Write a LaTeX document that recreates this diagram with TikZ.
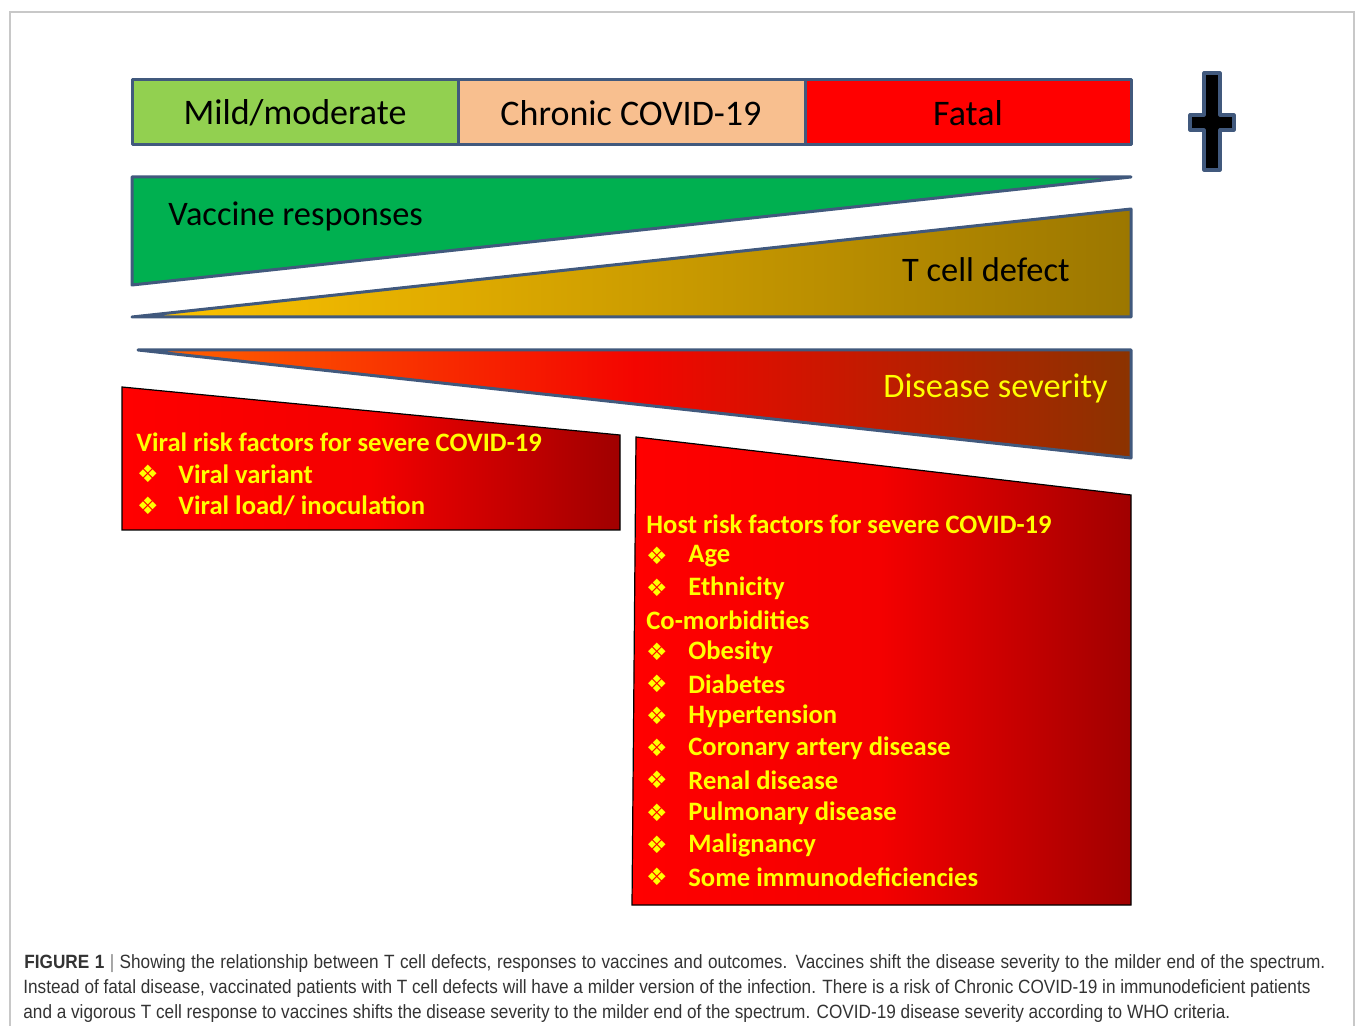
\documentclass[tikz,border=0pt]{standalone}
\usepackage{fontspec}
\setmainfont{Carlito}
\newfontfamily\symfont{DejaVu Sans}
\newfontfamily\capfont[FakeStretch=0.895]{Liberation Sans}
\definecolor{edgeblue}{HTML}{41597D}
\definecolor{mildgreen}{HTML}{92D050}
\definecolor{peach}{HTML}{F8BF8F}
\definecolor{vaccgreen}{HTML}{00B050}
\definecolor{goldleft}{HTML}{FFC400}
\definecolor{goldright}{HTML}{9C7700}
\definecolor{sevleft}{HTML}{FF6600}
\definecolor{sevright}{HTML}{8B3300}
\definecolor{boxred}{HTML}{FF0000}
\definecolor{boxdark}{HTML}{A00000}
\definecolor{textyellow}{HTML}{FFFF00}
\definecolor{capgray}{HTML}{333333}
\definecolor{framegray}{HTML}{C8C8C8}
\tikzset{
  edge/.style={draw=edgeblue, line width=1.5pt, line join=round},
  bigtext/.style={font=\fontsize{18}{21}\selectfont},
  wedgetext/.style={font=\fontsize{17.2}{20}\selectfont, inner sep=0pt},
  riskbox/.style={draw=black, line width=0.6pt, left color=boxred, right color=boxdark, middle color=boxred!88!boxdark},
  risktext/.style={font=\bfseries\fontsize{13.3}{16}\selectfont, text=textyellow, anchor=west, inner sep=0pt},
  bulletmark/.style={font=\symfont\fontsize{12}{14}\selectfont, text=textyellow, inner sep=0pt},
  captext/.style={font=\capfont\fontsize{9.6}{11}\selectfont, text=capgray, anchor=west, inner sep=0pt}
}
\begin{document}
\begin{tikzpicture}[x=0.5pt,y=-0.5pt]
\useasboundingbox (0,0) rectangle (1355,1026);
\draw[framegray, line width=0.6pt](10,1026)--(10,12)--(1354,12)--(1354,1026);
% outcome bar
\draw[edge, fill=mildgreen](132,80) rectangle (458,145);
\draw[edge, fill=peach](458,80) rectangle (805,145);
\draw[edge, fill=red](805,80) rectangle (1131,145);
\node[bigtext] (mild) at (295,113) {Mild/moderate};
\node[bigtext] (chronic) at (631,113) {Chronic COVID-19};
\node[bigtext] (fatal) at (968,113) {Fatal};
% cross
\draw[edge, line width=1.6pt, fill=black](1204,73)--(1220,73)--(1220,115)--(1234,115)--(1234,130)--(1220,130)
  --(1220,170)--(1204,170)--(1204,130)--(1190,130)--(1190,115)--(1204,115)--cycle;
% wedges
\draw[edge, fill=vaccgreen](132,177)--(1131,177)--(132,285)--cycle;
\node[wedgetext, anchor=west] (vaccine) at (168,216) {Vaccine responses};
\draw[edge, left color=goldleft, right color=goldright](132,317)--(1131,209)--(1131,317)--cycle;
\node[wedgetext, anchor=east] (tcell) at (1070,270) {T cell defect};
\draw[edge, left color=sevleft, right color=sevright, middle color=red!90!sevright](138,350)--(1131,350)--(1131,458)--cycle;
\node[wedgetext, anchor=east, text=textyellow] (severity) at (1108,388) {Disease severity};
% viral risk factors
\draw[riskbox](122,387)--(620,435)--(620,530)--(122,530)--cycle;
\node[risktext] (viral) at (136,442) {Viral risk factors for severe COVID-19};
\node[bulletmark] (vb1) at (148,474) {❖};
\node[risktext] (variant) at (178,474) {Viral variant};
\node[bulletmark] (vb2) at (148,506) {❖};
\node[risktext] (load) at (178,506) {Viral load/ inoculation};
% host risk factors
\draw[riskbox](636,437)--(1131,495)--(1131,905)--(632,905)--cycle;
\node[risktext] (host) at (646,524) {Host risk factors for severe COVID-19};
\node[bulletmark] (hb1) at (657,556) {❖};
\node[risktext] (age) at (688,556) {Age};
\node[bulletmark] (hb2) at (657,588) {❖};
\node[risktext] (ethnic) at (688,588) {Ethnicity};
\node[risktext] (comorb) at (646,620) {Co-morbidities};
\node[bulletmark] (hb3) at (657,652) {❖};
\node[risktext] (obesity) at (688,652) {Obesity};
\node[bulletmark] (hb4) at (657,684) {❖};
\node[risktext] (diabetes) at (688,684) {Diabetes};
\node[bulletmark] (hb5) at (657,716) {❖};
\node[risktext] (hyper) at (688,716) {Hypertension};
\node[bulletmark] (hb6) at (657,748) {❖};
\node[risktext] (coronary) at (688,748) {Coronary artery disease};
\node[bulletmark] (hb7) at (657,780) {❖};
\node[risktext] (renal) at (688,780) {Renal disease};
\node[bulletmark] (hb8) at (657,813) {❖};
\node[risktext] (pulmonary) at (688,813) {Pulmonary disease};
\node[bulletmark] (hb9) at (657,845) {❖};
\node[risktext] (malig) at (688,845) {Malignancy};
\node[bulletmark] (hb10) at (657,877) {❖};
\node[risktext] (immuno) at (688,877) {Some immunodeficiencies};
% caption
\node[captext] (cap1) at (24,964) {\makebox[650.5pt][s]{\textbf{FIGURE 1} {\color{gray}|} Showing the relationship between T cell defects, responses to vaccines and outcomes. Vaccines shift the disease severity to the milder end of the spectrum.}};
\node[captext] (cap2) at (23,989) {Instead of fatal disease, vaccinated patients with T cell defects will have a milder version of the infection. There is a risk of Chronic COVID-19 in immunodeficient patients};
\node[captext] (cap3) at (23,1014) {and a vigorous T cell response to vaccines shifts the disease severity to the milder end of the spectrum. COVID-19 disease severity according to WHO criteria.};
\end{tikzpicture}
\end{document}
